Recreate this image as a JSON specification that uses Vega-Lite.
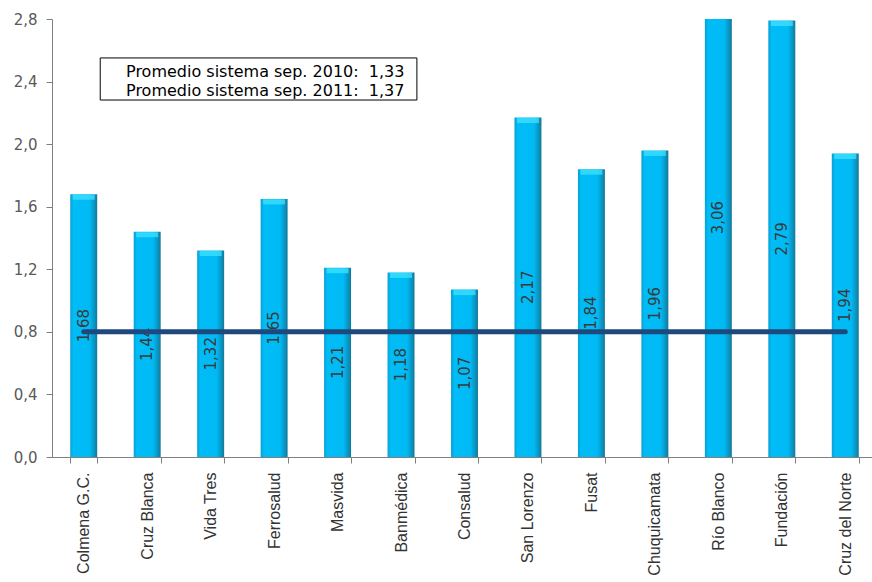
{
  "$schema": "https://vega.github.io/schema/vega-lite/v6.json",
  "width": 825,
  "height": 438,
  "autosize": {"type": "none"},
  "padding": {"left": 52, "top": 19, "right": 0, "bottom": 125},
  "config": {
    "view": {"stroke": null},
    "locale": {"number": {"decimal": ",", "thousands": ".", "grouping": [3], "currency": ["", ""]}}
  },
  "datasets": {
    "isapres": [
      {"isapre": "Colmena G.C.", "indice": 1.68},
      {"isapre": "Cruz Blanca", "indice": 1.44},
      {"isapre": "Vida Tres", "indice": 1.32},
      {"isapre": "Ferrosalud", "indice": 1.65},
      {"isapre": "Masvida", "indice": 1.21},
      {"isapre": "Banmédica", "indice": 1.18},
      {"isapre": "Consalud", "indice": 1.07},
      {"isapre": "San Lorenzo", "indice": 2.17},
      {"isapre": "Fusat", "indice": 1.84},
      {"isapre": "Chuquicamata", "indice": 1.96},
      {"isapre": "Río Blanco", "indice": 3.06},
      {"isapre": "Fundación", "indice": 2.79},
      {"isapre": "Cruz del Norte", "indice": 1.94}
    ],
    "promedios": [
      {"texto": "Promedio sistema sep. 2010: \u00a01,33", "linea": 1},
      {"texto": "Promedio sistema sep. 2011: \u00a01,37", "linea": 2}
    ]
  },
  "resolve": {"scale": {"x": "independent", "y": "independent"}, "axis": {"x": "independent", "y": "independent"}},
  "layer": [
    {
      "data": {"name": "isapres"},
      "encoding": {
        "x": {
          "field": "isapre", "type": "nominal", "sort": null,
          "scale": {"paddingInner": 0.575, "paddingOuter": 0.2875},
          "axis": {
            "title": null, "labelAngle": 270, "labelAlign": "right", "labelBaseline": "middle",
            "labelFont": "Liberation Sans", "labelFontSize": 16, "labelColor": "#333333",
            "labelPadding": 9, "tickBand": "extent", "tickSize": 6, "tickColor": "#808080",
            "domainColor": "#808080", "labelLimit": 300
          }
        },
        "y": {
          "field": "indice", "type": "quantitative",
          "scale": {"domain": [0, 2.8], "nice": false, "zero": true},
          "axis": {
            "title": null, "values": [0, 0.4, 0.8, 1.2, 1.6, 2.0, 2.4, 2.8], "format": ".1f",
            "grid": false, "labelFont": "DejaVu Sans", "labelFontSize": 15, "labelColor": "#595959",
            "tickSize": 6, "tickColor": "#808080", "domainColor": "#808080", "labelPadding": 9
          }
        }
      },
      "layer": [
        {
          "mark": {
            "type": "bar", "clip": true,
            "color": {
              "gradient": "linear", "x1": 0, "x2": 1, "y1": 0, "y2": 0,
              "stops": [
                {"offset": 0, "color": "#0A9FD2"},
                {"offset": 0.12, "color": "#00BCF7"},
                {"offset": 0.72, "color": "#00BAF4"},
                {"offset": 0.88, "color": "#0898C6"},
                {"offset": 1, "color": "#167898"}
              ]
            }
          }
        },
        {
          "mark": {"type": "tick", "clip": true, "color": "#45E5FF", "thickness": 5, "size": 22, "yOffset": 3}
        }
      ]
    },
    {
      "data": {"name": "isapres"},
      "mark": {"type": "text", "angle": 270, "font": "DejaVu Sans", "fontSize": 15, "color": "#3a3a3a", "align": "center", "baseline": "middle"},
      "encoding": {
        "x": {"field": "isapre", "type": "nominal", "sort": null, "scale": {"paddingInner": 0.575, "paddingOuter": 0.2875}, "axis": null},
        "y": {"field": "indice", "type": "quantitative", "scale": {"domain": [0, 5.6], "nice": false}, "axis": null},
        "text": {"field": "indice", "type": "quantitative", "format": ".2f"}
      }
    },
    {
      "data": {"name": "isapres"},
      "mark": {"type": "line", "color": "#1F497D", "strokeWidth": 5, "strokeCap": "round"},
      "encoding": {
        "x": {"field": "isapre", "type": "nominal", "sort": null, "scale": {"paddingInner": 0.575, "paddingOuter": 0.2875}, "axis": null},
        "y": {"datum": 0.8, "type": "quantitative", "scale": {"domain": [0, 2.8], "nice": false}, "axis": null}
      }
    },
    {
      "data": {"values": [{}]},
      "mark": {"type": "rect", "fill": "white", "stroke": "black", "strokeWidth": 1},
      "encoding": {
        "x": {"datum": 0.76, "type": "quantitative", "scale": {"domain": [0, 13], "nice": false}, "axis": null},
        "x2": {"datum": 5.75},
        "y": {"datum": 2.551, "type": "quantitative", "scale": {"domain": [0, 2.8], "nice": false}, "axis": null},
        "y2": {"datum": 2.282}
      }
    },
    {
      "data": {"name": "promedios"},
      "mark": {"type": "text", "font": "DejaVu Sans", "fontSize": 16, "color": "#000000", "align": "center", "baseline": "middle"},
      "encoding": {
        "x": {"datum": 3.36, "type": "quantitative", "scale": {"domain": [0, 13], "nice": false}, "axis": null},
        "y": {"field": "linea", "type": "quantitative", "scale": {"domain": [-1.789, 21.263], "reverse": true, "nice": false, "zero": false}, "axis": null},
        "text": {"field": "texto"}
      }
    }
  ]
}
